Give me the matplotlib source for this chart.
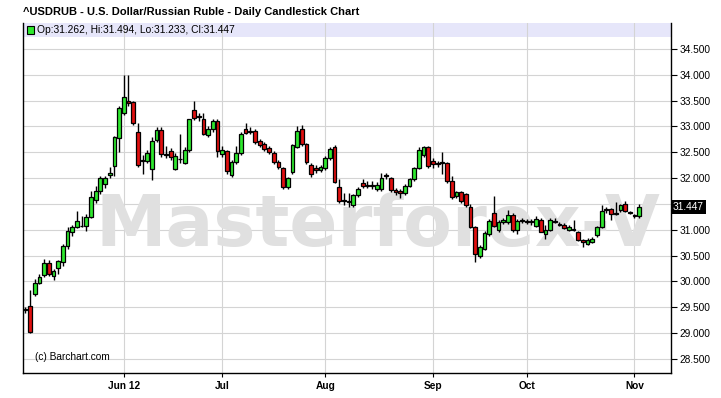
import matplotlib
matplotlib.use("Agg")
import matplotlib.pyplot as plt
import matplotlib.transforms as mtransforms
from matplotlib.patches import Rectangle
import numpy as np
import pandas as pd

# daily OHLC, USD/RUB, May 3 - Nov 2 2012
dates = pd.bdate_range("2012-05-03", "2012-11-02")

opens = [29.45, 29.52, 29.76, 29.97, 30.12, 30.36, 30.10, 30.26, 30.37, 30.68,
         30.95, 31.06, 31.07, 31.07, 31.25, 31.58, 31.76, 31.88, 32.06, 32.24,
         32.78, 33.25, 33.50, 33.47, 32.90, 32.33, 32.34, 32.18, 32.73, 32.93,
         32.47, 32.52, 32.18, 32.36, 32.30, 32.55, 33.32, 33.19, 33.14, 32.84,
         32.94, 33.10, 32.46, 32.52, 32.06, 32.32, 32.49, 32.94, 32.90, 32.92,
         32.71, 32.66, 32.58, 32.49, 32.32, 32.19, 31.82, 32.11, 32.61, 32.94,
         32.65, 32.26, 32.20, 32.16, 32.19, 32.39, 32.61, 31.83, 31.58, 31.56,
         31.48, 31.68, 31.90, 31.85, 31.86, 31.79, 31.79, 32.05, 32.00, 31.77,
         31.75, 31.71, 31.85, 31.98, 32.20, 32.45, 32.60, 32.34, 32.29, 32.29,
         32.29, 31.95, 31.66, 31.73, 31.69, 31.45, 31.05, 30.49, 30.63, 30.91,
         31.33, 31.00, 31.15, 31.16, 31.29, 30.99, 31.17, 31.17, 31.16, 31.08,
         31.19, 30.92, 31.00, 31.16, 31.11, 31.10, 31.00, 31.00, 30.95, 30.81,
         30.73, 30.76, 30.89, 31.06, 31.40, 31.40, 31.32, 31.38, 31.49, 31.34,
         31.28, 31.262]
highs = [29.50, 29.83, 30.05, 30.15, 30.44, 30.42, 30.24, 30.42, 30.72, 31.05,
         31.10, 31.36, 31.26, 31.30, 31.75, 31.85, 32.05, 32.05, 32.21, 32.82,
         33.40, 33.99, 33.99, 33.50, 33.07, 32.45, 32.55, 32.80, 32.98, 32.98,
         32.63, 32.58, 32.48, 32.85, 32.60, 33.15, 33.50, 33.25, 33.25, 33.00,
         33.15, 33.14, 32.63, 32.55, 32.35, 32.62, 32.90, 33.06, 32.98, 32.95,
         32.76, 32.70, 32.62, 32.52, 32.35, 32.22, 32.03, 32.66, 33.00, 33.02,
         32.67, 32.30, 32.25, 32.26, 32.42, 32.60, 32.64, 31.99, 31.72, 31.72,
         31.70, 31.82, 31.98, 31.95, 31.95, 31.92, 32.10, 32.10, 32.03, 31.80,
         31.78, 31.88, 32.00, 32.22, 32.61, 32.63, 32.63, 32.38, 32.33, 32.50,
         32.31, 32.05, 31.76, 31.75, 31.72, 31.50, 31.08, 30.70, 30.97, 31.20,
         31.66, 31.18, 31.22, 31.38, 31.32, 31.20, 31.22, 31.20, 31.20, 31.27,
         31.23, 31.10, 31.22, 31.22, 31.16, 31.14, 31.10, 31.19, 30.98, 30.83,
         30.84, 30.86, 31.08, 31.47, 31.45, 31.42, 31.53, 31.50, 31.56, 31.37,
         31.31, 31.494]
lows = [29.40, 29.00, 29.72, 29.95, 30.08, 30.10, 30.03, 30.15, 30.30, 30.62,
        30.88, 31.04, 31.05, 30.97, 31.23, 31.52, 31.70, 31.81, 32.00, 32.05,
        32.50, 33.22, 33.40, 33.02, 32.22, 32.07, 32.30, 31.97, 32.70, 32.40,
        32.39, 32.35, 32.15, 32.30, 32.28, 32.50, 33.12, 33.10, 32.83, 32.80,
        32.90, 32.41, 32.40, 32.08, 32.03, 32.28, 32.45, 32.85, 32.85, 32.66,
        32.60, 32.52, 32.47, 32.28, 32.18, 31.79, 31.79, 32.08, 32.58, 32.62,
        32.28, 32.02, 32.10, 32.12, 32.15, 32.35, 31.90, 31.52, 31.48, 31.45,
        31.44, 31.64, 31.80, 31.80, 31.78, 31.75, 31.76, 31.98, 31.74, 31.68,
        31.62, 31.68, 31.82, 31.95, 32.18, 32.40, 32.20, 32.20, 32.22, 32.08,
        31.90, 31.60, 31.62, 31.52, 31.44, 31.03, 30.38, 30.45, 30.60, 30.88,
        31.05, 30.95, 31.12, 31.12, 30.95, 30.92, 31.13, 31.12, 31.10, 31.06,
        30.95, 30.83, 30.98, 31.13, 31.08, 31.02, 30.98, 30.97, 30.78, 30.67,
        30.70, 30.74, 30.86, 31.03, 31.32, 31.18, 31.28, 31.35, 31.35, 31.30,
        31.22, 31.233]
closes = [29.45, 29.02, 29.97, 30.08, 30.36, 30.15, 30.21, 30.39, 30.68, 30.97,
          31.05, 31.17, 31.08, 31.25, 31.63, 31.75, 32.00, 32.00, 32.10, 32.79,
          33.35, 33.57, 33.45, 33.06, 32.26, 32.35, 32.49, 32.71, 32.93, 32.47,
          32.45, 32.40, 32.42, 32.37, 32.55, 33.14, 33.16, 33.18, 32.86, 32.94,
          33.11, 32.52, 32.55, 32.13, 32.32, 32.49, 32.86, 32.88, 32.92, 32.69,
          32.64, 32.56, 32.50, 32.31, 32.21, 31.83, 32.01, 32.64, 32.91, 32.65,
          32.31, 32.08, 32.16, 32.22, 32.39, 32.56, 31.92, 31.56, 31.55, 31.53,
          31.67, 31.79, 31.85, 31.86, 31.85, 31.87, 32.00, 32.04, 31.77, 31.73,
          31.71, 31.85, 31.98, 32.20, 32.55, 32.60, 32.24, 32.28, 32.28, 32.29,
          31.95, 31.63, 31.73, 31.55, 31.47, 31.06, 30.54, 30.67, 30.94, 31.17,
          31.08, 31.15, 31.19, 31.29, 30.99, 31.17, 31.18, 31.16, 31.17, 31.21,
          30.96, 31.00, 31.18, 31.15, 31.10, 31.04, 31.06, 31.00, 30.81, 30.76,
          30.81, 30.83, 31.06, 31.36, 31.39, 31.31, 31.31, 31.47, 31.37, 31.33,
          31.27, 31.447]

month_ticks = ["2012-06-01", "2012-07-02", "2012-08-01", "2012-09-03", "2012-10-01", "2012-11-01"]
month_labels = ["Jun 12", "Jul", "Aug", "Sep", "Oct", "Nov"]
price_ticks = [28.5, 29.0, 29.5, 30.0, 30.5, 31.0, 31.5, 32.0, 32.5, 33.0, 33.5, 34.0, 34.5]

plt.rcParams['font.family'] = ['Liberation Sans', 'DejaVu Sans']

o = np.array(opens)
h = np.array(highs)
l = np.array(lows)
c = np.array(closes)
x = np.arange(len(dates))

fig = plt.figure(figsize=(7.21, 3.98), dpi=100)
ax = fig.add_axes([23 / 721, 1 - 373 / 398, 648 / 721, 350 / 398])

# watermark behind the candles
ax.text(72 / 648, 0.418, "Masterforex-V", transform=ax.transAxes, fontsize=51,
        family="DejaVu Sans", fontweight="bold", color="#e0e0e0",
        ha="left", va="center", zorder=1.5)

# legend band
ax.add_patch(Rectangle((0, 1 - 14 / 350), 1, 14 / 350, transform=ax.transAxes,
                       facecolor="#e6e6fa", edgecolor="none", zorder=0.2))

# candles
up = c >= o
body_lo = np.minimum(o, c)
body_h = np.maximum(np.abs(c - o), 0.012)
ax.vlines(x, l, h, color="black", linewidth=1.0, zorder=2)
ax.bar(x[up], body_h[up], bottom=body_lo[up], width=0.8, color="#2ee82e",
       edgecolor="black", linewidth=0.9, zorder=3)
ax.bar(x[~up], body_h[~up], bottom=body_lo[~up], width=0.8, color="#e01010",
       edgecolor="black", linewidth=0.9, zorder=3)

ax.set_xlim(-0.51, 137.8)
ax.set_ylim(28.23, 35.0)

tick_pos = [dates.get_loc(pd.Timestamp(d)) for d in month_ticks]
ax.set_xticks(tick_pos)
ax.set_xticklabels(month_labels, fontweight="bold", fontsize=7.3)
ax.set_yticks(price_ticks)
# the 31.500 label sits under the last-close box
ax.set_yticklabels(["" if v == 31.5 else f"{v:.3f}" for v in price_ticks], fontsize=7.3)
ax.yaxis.tick_right()
ax.tick_params(axis="y", length=4, width=0.8, pad=2)
ax.tick_params(axis="x", length=3, width=0.8, pad=3)
ax.grid(True, color="#d4d4d4", linewidth=0.8, zorder=1)
ax.set_axisbelow(True)
for s in ax.spines.values():
    s.set_linewidth(1.0)
ax.spines["top"].set_visible(False)

# last close marker
trans = mtransforms.blended_transform_factory(ax.transAxes, ax.transData)
ax.text(1.003, closes[-1], f"{closes[-1]:.3f}", transform=trans, fontsize=7.3,
        color="white", va="center", ha="left",
        bbox=dict(boxstyle="square,pad=0.2", facecolor="black", edgecolor="none"))

# legend text
ax.add_patch(Rectangle((0.006, 1 - 11 / 350), 0.011, 8 / 350, transform=ax.transAxes,
                       facecolor="#2ee82e", edgecolor="black", linewidth=0.8, zorder=4))
ax.text(0.022, 1 - 7 / 350, f"Op:{opens[-1]:.3f}, Hi:{highs[-1]:.3f}, Lo:{lows[-1]:.3f}, Cl:{closes[-1]:.3f}",
        transform=ax.transAxes, fontsize=7.4, va="center", ha="left", zorder=4)

ax.text(0.018, 0.045, "(c) Barchart.com", transform=ax.transAxes, fontsize=7.3,
        va="center", ha="left", zorder=4)

fig.text(23 / 721, 1 - 12 / 398, "^USDRUB - U.S. Dollar/Russian Ruble - Daily Candlestick Chart",
         fontsize=8.0, fontweight="bold", va="center", ha="left")

fig.savefig("out.png", dpi=100, facecolor="white")
